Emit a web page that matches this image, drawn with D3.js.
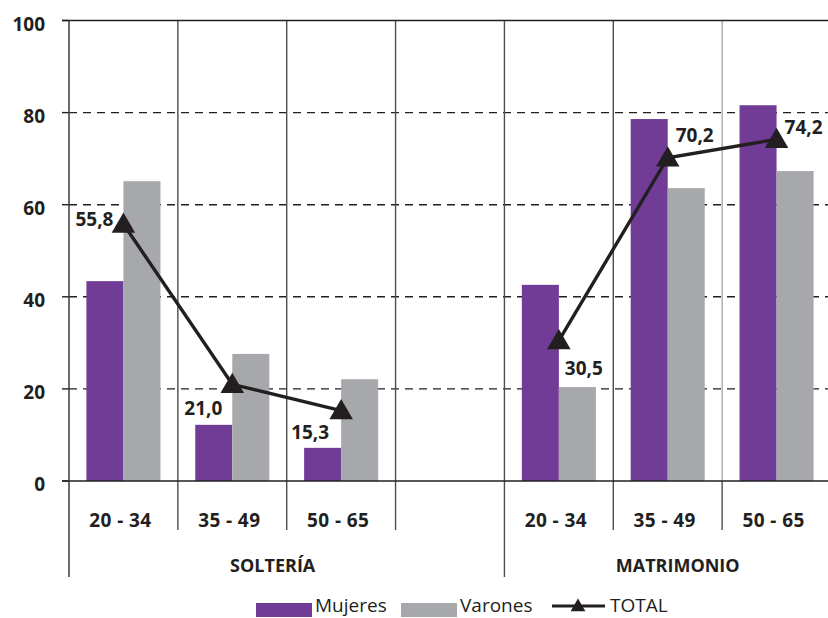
<!DOCTYPE html>
<html>
<head>
<meta charset="utf-8">
<script src="https://cdn.jsdelivr.net/npm/d3@7"></script>
<style>
  html, body { margin: 0; padding: 0; background: #fff; }
  svg { display: block; }
  text { font-family: "Open Sans", "Noto Sans", sans-serif; fill: #231f20; }
</style>
</head>
<body>
<svg id="chart" width="828" height="618"></svg>
<script>
// Age bands per slot; the empty slot separates the two groups
const slots = ["20 - 34", "35 - 49", "50 - 65", "", "20 - 34", "35 - 49", "50 - 65"];
const mujeres = [43.4, 12.2, 7.2, null, 42.6, 78.6, 81.6];
const varones = [65.1, 27.6, 22.1, null, 20.4, 63.6, 67.3];
const total   = [55.8, 21.0, 15.3, null, 30.5, 70.2, 74.2];
const totalLabels = ["55,8", "21,0", "15,3", "", "30,5", "70,2", "74,2"];
const groupNames = ["SOLTERÍA", "MATRIMONIO"];
const groupFirst = [0, 4];
const groupLast  = [3, 6];
const yTicks = [0, 20, 40, 60, 80, 100];
const seriesNames = ["Mujeres", "Varones"];
const seriesColors = ["#703c96", "#a7a8ab"];

const svg = d3.select("#chart");
const ink = "#231f20";

const x = d3.scaleBand()
  .domain(d3.range(slots.length))
  .range([69, 831])
  .paddingInner(0).paddingOuter(0);

const xs = d3.scaleBand()
  .domain(seriesNames)
  .range([0, x.bandwidth()])
  .paddingInner(0)
  .paddingOuter(0.47);

const y = d3.scaleLinear().domain([0, 100]).range([481, 20.5]);

const baseY = y(0);
const slotBottom = 530;
const groupBottom = 577;

// Horizontal dashed gridlines and ticks
const grid = svg.append("g");
yTicks.forEach(t => {
  if (t === 0 || t === 100) return;
  grid.append("line")
    .attr("x1", 69).attr("x2", 831)
    .attr("y1", y(t)).attr("y2", y(t))
    .attr("stroke", ink).attr("stroke-width", 1.4)
    .attr("stroke-dasharray", "8,6");
});
yTicks.forEach(t => {
  grid.append("line")
    .attr("x1", 62).attr("x2", 69)
    .attr("y1", y(t)).attr("y2", y(t))
    .attr("stroke", ink).attr("stroke-width", 1.4);
});

// Vertical slot dividers
d3.range(1, slots.length).forEach(i => {
  const xx = x(i);
  const isGroupEdge = groupFirst.includes(i);
  grid.append("line")
    .attr("x1", xx).attr("x2", xx)
    .attr("y1", y(100)).attr("y2", baseY)
    .attr("stroke", i === 6 ? "#a9a9ab" : "#4d4d4f")
    .attr("stroke-width", 1.4);
  grid.append("line")
    .attr("x1", xx).attr("x2", xx)
    .attr("y1", baseY).attr("y2", isGroupEdge ? groupBottom : slotBottom)
    .attr("stroke", "#4d4d4f").attr("stroke-width", 1.4);
});

// Bars
const bars = svg.append("g");
slots.forEach((s, i) => {
  [mujeres[i], varones[i]].forEach((v, k) => {
    if (v == null) return;
    bars.append("rect")
      .attr("x", x(i) + xs(seriesNames[k]))
      .attr("width", xs.bandwidth())
      .attr("y", y(v))
      .attr("height", baseY - y(v))
      .attr("fill", seriesColors[k]);
  });
});

// Frame: top line, left axis, baseline
svg.append("line")
  .attr("x1", 62).attr("x2", 831).attr("y1", y(100)).attr("y2", y(100))
  .attr("stroke", ink).attr("stroke-width", 1.7);
svg.append("line")
  .attr("x1", 62).attr("x2", 831).attr("y1", baseY).attr("y2", baseY)
  .attr("stroke", ink).attr("stroke-width", 1.7);
svg.append("line")
  .attr("x1", 69).attr("x2", 69).attr("y1", y(100)).attr("y2", groupBottom)
  .attr("stroke", "#3a3a3c").attr("stroke-width", 1.5);

// Y tick labels
svg.append("g").selectAll("text").data(yTicks).join("text")
  .attr("x", 45).attr("y", d => y(d) + 10)
  .attr("text-anchor", "end")
  .attr("font-size", 19).attr("font-weight", 700)
  .text(d => d);

// Age-band labels
svg.append("g").selectAll("text").data(slots).join("text")
  .attr("x", (d, i) => x(i) + x.bandwidth() / 2 - 3)
  .attr("y", 527)
  .attr("text-anchor", "middle")
  .attr("font-size", 19).attr("font-weight", 700)
  .attr("letter-spacing", 0.4)
  .text(d => d);

// Group labels
const groupOffset = [-14, 10];
groupNames.forEach((g, k) => {
  const cx = (x(groupFirst[k]) + x(groupLast[k]) + x.bandwidth()) / 2;
  svg.append("text")
    .attr("x", cx + groupOffset[k]).attr("y", 572)
    .attr("text-anchor", "middle")
    .attr("font-size", 18).attr("font-weight", 700)
    .text(g);
});

// TOTAL line with triangle markers
const cxOf = i => x(i) + x.bandwidth() / 2;
const line = d3.line()
  .defined(d => d != null)
  .x((d, i) => cxOf(i))
  .y(d => y(d));
svg.append("path")
  .datum(total)
  .attr("d", line)
  .attr("fill", "none")
  .attr("stroke", ink)
  .attr("stroke-width", 3.4);

const tri = d3.symbol().type(d3.symbolTriangle).size(240);
svg.append("g").selectAll("path")
  .data(total.map((v, i) => ({ v, i })).filter(d => d.v != null))
  .join("path")
  .attr("d", tri)
  .attr("transform", d => `translate(${cxOf(d.i)},${y(d.v) + 2})`)
  .attr("fill", ink);

// Value labels beside each TOTAL point
const labelDx = [-10, -10, -12, 0, 6, 8, 8];
const labelDy = [2, 31, 28, 0, 34, -16, -5];
const labelAnchor = ["end", "end", "end", "start", "start", "start", "start"];
svg.append("g").selectAll("text")
  .data(total.map((v, i) => ({ v, i })).filter(d => d.v != null))
  .join("text")
  .attr("x", d => cxOf(d.i) + labelDx[d.i])
  .attr("y", d => y(d.v) + labelDy[d.i])
  .attr("text-anchor", d => labelAnchor[d.i])
  .attr("font-size", 19).attr("font-weight", 700)
  .text(d => totalLabels[d.i]);

// Legend
const legend = svg.append("g");
const swatchX = [256, 401];
const swatchW = [56, 56];
seriesNames.forEach((n, k) => {
  legend.append("rect")
    .attr("x", swatchX[k]).attr("y", 603)
    .attr("width", swatchW[k]).attr("height", 14)
    .attr("fill", seriesColors[k]);
  legend.append("text")
    .attr("x", swatchX[k] + swatchW[k] + 3).attr("y", 612)
    .attr("font-size", 19)
    .text(n);
});
legend.append("line")
  .attr("x1", 552).attr("x2", 605).attr("y1", 606).attr("y2", 606)
  .attr("stroke", ink).attr("stroke-width", 3.2);
legend.append("path")
  .attr("d", d3.symbol().type(d3.symbolTriangle).size(95))
  .attr("transform", "translate(578,607)")
  .attr("fill", ink);
legend.append("text")
  .attr("x", 610).attr("y", 612)
  .attr("font-size", 19)
  .text("TOTAL");
</script>
</body>
</html>
